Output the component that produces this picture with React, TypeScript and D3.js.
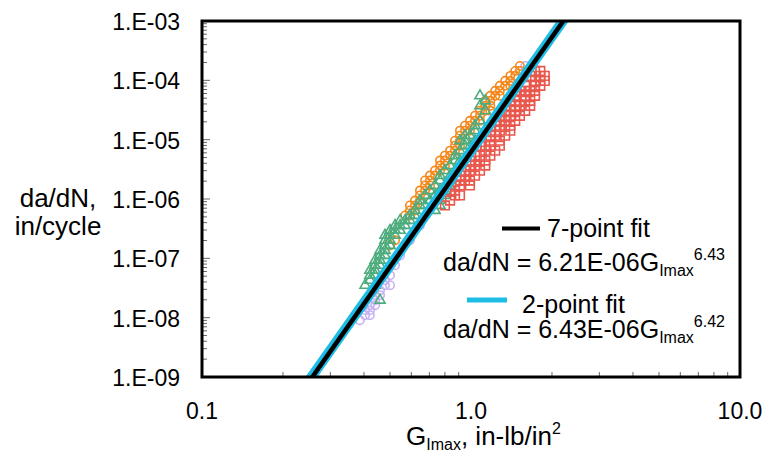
import React from 'react';
import * as d3 from 'd3';

// ---- axis ticks ----
const xTickValues = [0.1, 1, 10];
const xTickLabels = ['0.1', '1.0', '10.0'];
const yTickValues = [1e-3, 1e-4, 1e-5, 1e-6, 1e-7, 1e-8, 1e-9];
const yTickLabels = ['1.E-03', '1.E-04', '1.E-05', '1.E-06', '1.E-07', '1.E-08', '1.E-09'];

// ---- fits: da/dN = C * G^n ----
const fitNames = ['7-point fit', '2-point fit'];
const fitCoef = [6.21e-6, 6.43e-6];
const fitExp = [6.43, 6.42];
const fitCoefLabels = ['6.21E-06', '6.43E-06'];
const fitExpLabels = ['6.43', '6.42'];

// ---- data (G_Imax in-lb/in^2, da/dN in/cycle) ----
const greenG = [0.421, 0.44, 0.44, 0.459, 0.459, 0.479, 0.479, 0.5, 0.5, 0.522, 0.545, 0.569, 0.569, 0.593, 0.619, 0.646, 0.646, 0.675, 0.704, 0.735, 0.767, 0.767, 0.8, 0.836, 0.872, 0.872, 0.91, 0.95, 0.95, 0.991, 1.035, 1.035, 1.08,
  0.5, 0.522, 0.545, 0.479, 1.08, 1.13, 1.08, 1.13, 0.95, 0.91, 0.767, 0.8, 0.836, 0.735, 0.459, 0.44,
  0.404, 0.421, 0.421, 0.44, 0.44, 0.459, 0.459, 0.479, 0.479, 0.5, 0.522, 0.545, 0.593, 0.619, 0.675, 0.704, 0.735, 0.767, 0.8, 0.836, 0.872, 0.91, 0.991, 1.035,
  0.8, 0.836, 0.767];
const greenRate = [4.27e-8, 5.18e-8, 6.28e-8, 7.62e-8, 9.25e-8, 1.12e-7, 1.36e-7, 1.65e-7, 2.01e-7, 2.44e-7, 2.96e-7, 3.59e-7, 4.35e-7, 5.28e-7, 6.41e-7, 7.78e-7, 9.4e-7, 1.15e-6, 1.39e-6, 1.69e-6, 2.05e-6, 2.48e-6, 3.01e-6, 3.66e-6, 4.44e-6, 5.38e-6, 6.53e-6, 7.92e-6, 9.6e-6, 1.17e-5, 1.42e-5, 1.72e-5, 2.08e-5,
  2.96e-7, 3.59e-7, 4.35e-7, 2.44e-7, 5.49e-5, 4.52e-5, 3.72e-5, 3.07e-5, 1.17e-5, 9.6e-6, 9.4e-7, 1.39e-6, 2.05e-6, 6.41e-7, 1.97e-8, 3.52e-8,
  3.52e-8, 5.18e-8, 6.28e-8, 7.62e-8, 9.25e-8, 1.12e-7, 1.36e-7, 1.65e-7, 2.01e-7, 2.44e-7, 2.96e-7, 3.59e-7, 4.35e-7, 5.28e-7, 7.78e-7, 9.4e-7, 1.15e-6, 1.39e-6, 1.69e-6, 2.48e-6, 3.01e-6, 4.44e-6, 7.92e-6, 9.6e-6,
  1.15e-6, 1.69e-6, 7.78e-7];

const orangeG = [0.5, 0.593, 0.619, 0.619, 0.646, 0.675, 0.704, 0.704, 0.735, 0.767, 0.8, 0.8, 0.836, 0.872, 0.91, 0.91, 0.95, 0.991, 1.035, 1.08, 1.13, 1.18, 1.18, 1.23, 1.28, 1.34, 1.4, 1.46, 1.52, 1.52,
  0.836, 0.991, 1.13, 1.28, 1.4,
  1.46, 1.34, 1.23, 1.18, 1.13, 1.08, 1.035, 0.95, 0.91, 0.91, 0.872, 0.872, 0.8, 0.767, 0.767, 0.735, 0.704, 0.675, 0.675, 0.646, 0.646, 0.619, 0.593, 0.593, 0.569, 0.522,
  1.08, 0.991, 1.18, 1.28, 1.4];
const orangeRate = [1.65e-7, 5.28e-7, 6.41e-7, 7.78e-7, 9.4e-7, 1.39e-6, 1.69e-6, 2.05e-6, 2.48e-6, 3.01e-6, 3.66e-6, 4.44e-6, 5.38e-6, 6.53e-6, 7.92e-6, 9.6e-6, 1.42e-5, 1.72e-5, 2.08e-5, 2.53e-5, 3.07e-5, 3.72e-5, 4.52e-5, 5.49e-5, 6.67e-5, 8.09e-5, 9.8e-5, 1.19e-4, 1.44e-4, 1.75e-4,
  6.53e-6, 2.08e-5, 4.52e-5, 8.09e-5, 1.19e-4,
  1.44e-4, 9.8e-5, 6.67e-5, 5.49e-5, 3.72e-5, 3.07e-5, 2.53e-5, 1.72e-5, 1.42e-5, 1.17e-5, 9.6e-6, 7.92e-6, 5.38e-6, 4.44e-6, 3.66e-6, 3.01e-6, 2.48e-6, 2.05e-6, 1.69e-6, 1.39e-6, 1.15e-6, 9.4e-7, 7.78e-7, 6.41e-7, 5.28e-7, 2.01e-7,
  2.08e-5, 1.42e-5, 3.07e-5, 5.49e-5, 8.09e-5];

const redG = [0.8, 0.836, 0.872, 0.872, 0.91, 0.95, 0.95, 0.991, 1.035, 1.08, 1.08, 1.13, 1.18, 1.18, 1.23, 1.28, 1.34, 1.34, 1.4, 1.46, 1.52, 1.59, 1.59, 1.66, 1.73, 1.73, 1.81, 1.81,
  0.91, 0.991, 1.08, 1.18, 1.28, 1.4, 1.52, 1.66, 1.73, 0.836, 1.035, 1.23, 1.46, 0.991, 1.18, 1.46, 1.66, 1.88, 1.88,
  1.81, 1.59, 1.81, 1.59, 1.73, 1.46, 1.73, 1.4, 1.66, 1.34, 1.59, 1.52, 1.28, 1.4, 1.4, 1.18, 1.34, 1.28, 1.13, 1.28, 1.23, 1.13, 0.991, 1.13, 1.08, 0.95, 1.035, 0.91, 0.991, 0.872, 0.91];
const redRate = [7.78e-7, 9.4e-7, 1.15e-6, 1.39e-6, 1.69e-6, 2.05e-6, 2.48e-6, 3.01e-6, 3.66e-6, 4.44e-6, 5.38e-6, 6.53e-6, 7.92e-6, 9.6e-6, 1.17e-5, 1.42e-5, 1.72e-5, 2.08e-5, 2.53e-5, 3.07e-5, 3.72e-5, 4.52e-5, 5.49e-5, 6.67e-5, 8.09e-5, 9.8e-5, 1.19e-4, 1.44e-4,
  2.48e-6, 4.44e-6, 7.92e-6, 1.42e-5, 2.53e-5, 4.52e-5, 6.67e-5, 1.19e-4, 1.44e-4, 1.39e-6, 5.38e-6, 1.72e-5, 4.52e-5, 2.05e-6, 5.38e-6, 2.08e-5, 4.52e-5, 9.8e-5, 1.19e-4,
  9.8e-5, 8.09e-5, 8.09e-5, 6.67e-5, 6.67e-5, 5.49e-5, 5.49e-5, 3.72e-5, 3.72e-5, 3.07e-5, 3.07e-5, 2.53e-5, 2.08e-5, 1.72e-5, 1.42e-5, 1.17e-5, 1.17e-5, 9.6e-6, 7.92e-6, 7.92e-6, 6.53e-6, 4.44e-6, 3.66e-6, 3.66e-6, 3.01e-6, 3.01e-6, 2.48e-6, 2.05e-6, 1.69e-6, 1.69e-6, 1.15e-6];

const lavenderG = [0.386, 0.404, 0.404, 0.421, 0.44, 0.44, 0.459, 0.479, 0.479, 0.5, 0.522, 0.545, 0.593, 0.646, 1.59, 1.52,
  0.421, 0.459, 0.44, 0.421, 0.5];
const lavenderRate = [9.08e-9, 1.1e-8, 1.34e-8, 1.62e-8, 1.97e-8, 2.39e-8, 2.9e-8, 3.52e-8, 4.27e-8, 5.18e-8, 7.62e-8, 1.12e-7, 2.01e-7, 3.59e-7, 1.75e-4, 1.44e-4,
  1.34e-8, 2.39e-8, 1.62e-8, 1.1e-8, 3.52e-8];

const W = 764, H = 455;
const L = 202, R = 740, T = 21, B = 377;
const FONT = '"Liberation Sans", Arial, sans-serif';

const x = d3.scaleLog().domain([0.1, 10]).range([L, R]);
const y = d3.scaleLog().domain([1e-9, 1e-3]).range([B, T]);

type Series = { g: number[]; r: number[]; color: string; sym: d3.SymbolType; size: number };
const series: Series[] = [
  { g: lavenderG, r: lavenderRate, color: '#c6b2f2', sym: d3.symbolCircle, size: 55 },
  { g: orangeG, r: orangeRate, color: '#f5881c', sym: d3.symbolCircle, size: 55 },
  { g: greenG, r: greenRate, color: '#4dac7d', sym: d3.symbolTriangle, size: 45 },
  { g: redG, r: redRate, color: '#e9574d', sym: d3.symbolSquare, size: 75 },
];

const fitColors = ['#000000', '#1dbde6'];
const fitWidths = [4.5, 10];

export default function App() {
  const yMinor: number[] = [];
  for (let e = -9; e < -3; e++) for (let k = 2; k <= 9; k++) yMinor.push(k * Math.pow(10, e));
  const xMinor: number[] = [];
  for (let e = -1; e < 1; e++) for (let k = 2; k <= 9; k++) xMinor.push(k * Math.pow(10, e));

  const fitLine = (i: number) => {
    const gs = [0.1, 10];
    const line = d3.line<number>().x((g) => x(g)).y((g) => y(fitCoef[i] * Math.pow(g, fitExp[i])));
    return line(gs) || '';
  };

  return (
    <svg width={W} height={H} style={{ position: 'absolute', left: 0, top: 0, background: '#fff' }} fontFamily={FONT}>
      <defs>
        <clipPath id="plot">
          <rect x={L} y={T} width={R - L} height={B - T} />
        </clipPath>
      </defs>
      <rect x={0} y={0} width={W} height={H} fill="#fff" />
      {/* ticks */}
      {yMinor.map((v, i) => (
        <line key={'ym' + i} x1={L} x2={L + 5} y1={y(v)} y2={y(v)} stroke="#666" strokeWidth={1} />
      ))}
      {yTickValues.map((v, i) => (
        <line key={'yM' + i} x1={L} x2={L + 8} y1={y(v)} y2={y(v)} stroke="#666" strokeWidth={1} />
      ))}
      {xMinor.map((v, i) => (
        <line key={'xm' + i} x1={x(v)} x2={x(v)} y1={B} y2={B - 5} stroke="#666" strokeWidth={1} />
      ))}
      {/* data */}
      <g clipPath="url(#plot)">
        {series.map((s, si) => {
          const p = d3.symbol().type(s.sym).size(s.size)() || '';
          return (
            <g key={'s' + si}>
              {s.g.map((g, i) => (
                <path key={i} d={p} transform={`translate(${x(g)},${y(s.r[i])})`} fill="none" stroke={s.color} strokeWidth={1.6} />
              ))}
            </g>
          );
        })}
        <path d={fitLine(1)} stroke={fitColors[1]} strokeWidth={fitWidths[1]} fill="none" />
        <path d={fitLine(0)} stroke={fitColors[0]} strokeWidth={fitWidths[0]} fill="none" />
      </g>
      {/* frame */}
      <rect x={L} y={T} width={R - L} height={B - T} fill="none" stroke="#000" strokeWidth={3} />
      {/* tick labels */}
      {yTickValues.map((v, i) => (
        <text key={'yl' + i} x={180} y={y(v) + 9} textAnchor="end" fontSize={23}>{yTickLabels[i]}</text>
      ))}
      {xTickValues.map((v, i) => (
        <text key={'xl' + i} x={x(v)} y={419} textAnchor="middle" fontSize={23}>{xTickLabels[i]}</text>
      ))}
      {/* axis titles */}
      <text x={406} y={445} fontSize={26}>
        G<tspan fontSize={16} dy={5}>Imax</tspan><tspan dy={-5}>, in-lb/in</tspan><tspan fontSize={16} dy={-11}>2</tspan>
      </text>
      <text x={58} y={207} textAnchor="middle" fontSize={26}>da/dN,</text>
      <text x={58} y={235} textAnchor="middle" fontSize={26}>in/cycle</text>
      {/* legend */}
      <line x1={502} x2={540} y1={228.5} y2={228.5} stroke={fitColors[0]} strokeWidth={4} />
      <text x={547} y={237} fontSize={25}>{fitNames[0]}</text>
      <text x={443} y={271} fontSize={25}>
        da/dN = {fitCoefLabels[0]}G<tspan fontSize={16} dy={5}>Imax</tspan><tspan fontSize={16} dy={-16}>{fitExpLabels[0]}</tspan>
      </text>
      <line x1={467} x2={507} y1={300} y2={300} stroke={fitColors[1]} strokeWidth={5} />
      <text x={522} y={313} fontSize={25}>{fitNames[1]}</text>
      <text x={443} y={338} fontSize={25}>
        da/dN = {fitCoefLabels[1]}G<tspan fontSize={16} dy={5}>Imax</tspan><tspan fontSize={16} dy={-16}>{fitExpLabels[1]}</tspan>
      </text>
    </svg>
  );
}
